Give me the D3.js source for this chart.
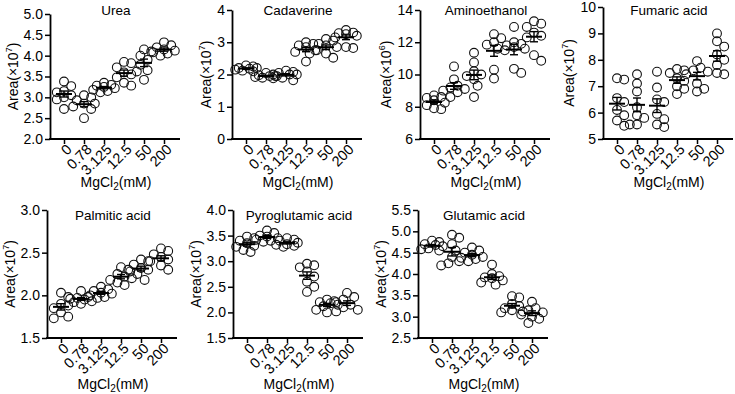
<!DOCTYPE html>
<html>
<head>
<meta charset="utf-8">
<script src="https://cdn.jsdelivr.net/npm/d3@7"></script>
<style>
  body { margin: 0; background: #fff; }
  svg { display: block; font-family: "Liberation Sans", Arial, Helvetica, sans-serif; }
  .axis path, .axis line { stroke: #000; }
  .axis text { fill: #000; font-size: 14px; }
</style>
</head>
<body>
<svg id="chart" width="735" height="394"></svg>
<script>
// MgCl2 concentrations (mM), one group of 8 replicates per concentration
const categories = ['0', '0.78', '3.125', '12.5', '50', '200'];

// Peak areas, one array per concentration
const urea = [
  [3.38, 3.27, 3.15, 3.05, 3.00, 2.95, 2.72, 3.12],
  [3.05, 3.00, 2.93, 2.85, 2.78, 2.72, 2.50, 2.85],
  [3.35, 3.30, 3.25, 3.22, 3.18, 3.15, 3.12, 3.28],
  [3.85, 3.82, 3.72, 3.60, 3.55, 3.48, 3.35, 3.28],
  [4.15, 4.10, 4.00, 3.90, 3.78, 3.65, 3.62, 3.42],
  [4.32, 4.25, 4.20, 4.15, 4.12, 4.08, 4.05, 4.00]
];
const cadaverine = [
  [2.28, 2.25, 2.20, 2.18, 2.15, 2.12, 2.10, 2.20],
  [2.05, 2.00, 1.98, 1.95, 1.92, 1.90, 1.88, 1.95],
  [2.12, 2.08, 2.05, 2.00, 1.95, 1.90, 1.82, 2.00],
  [3.00, 2.95, 2.90, 2.85, 2.75, 2.70, 2.65, 2.40],
  [3.10, 3.05, 2.95, 2.90, 2.85, 2.75, 2.65, 2.52],
  [3.38, 3.30, 3.28, 3.25, 3.20, 3.15, 2.85, 2.82]
];
const aminoethanol = [
  [8.70, 8.60, 8.55, 8.40, 8.25, 8.10, 7.90, 7.85],
  [10.50, 9.70, 9.30, 9.20, 9.00, 8.90, 8.60, 9.10],
  [11.35, 10.75, 10.20, 10.00, 9.90, 9.70, 9.30, 8.60],
  [12.50, 12.25, 12.00, 11.85, 11.60, 11.50, 10.30, 9.75],
  [12.95, 12.00, 11.90, 11.80, 11.70, 11.60, 10.35, 10.10],
  [13.30, 13.15, 12.95, 12.60, 12.40, 12.30, 11.20, 10.85]
];
const fumaricAcid = [
  [7.30, 7.25, 6.55, 6.40, 6.10, 5.90, 5.70, 5.50],
  [7.45, 7.10, 6.80, 6.20, 5.90, 5.80, 5.55, 5.55],
  [7.55, 6.95, 6.50, 6.40, 5.95, 5.75, 5.55, 5.45],
  [7.65, 7.60, 7.50, 7.30, 7.20, 7.00, 6.90, 6.70],
  [7.95, 7.70, 7.60, 7.55, 7.45, 7.10, 6.90, 6.80],
  [9.00, 8.70, 8.50, 8.20, 8.00, 7.80, 7.50, 7.45]
];
const palmiticAcid = [
  [2.03, 1.98, 1.90, 1.88, 1.85, 1.80, 1.75, 1.73],
  [2.05, 1.98, 1.97, 1.96, 1.95, 1.93, 1.92, 1.90],
  [2.10, 2.07, 2.05, 2.03, 2.00, 1.98, 1.97, 2.02],
  [2.33, 2.30, 2.25, 2.22, 2.20, 2.18, 2.15, 2.12],
  [2.42, 2.40, 2.36, 2.32, 2.30, 2.28, 2.25, 2.18],
  [2.55, 2.52, 2.48, 2.45, 2.42, 2.40, 2.35, 2.30]
];
const pyroglutamicAcid = [
  [3.48, 3.45, 3.40, 3.35, 3.30, 3.28, 3.22, 3.18],
  [3.60, 3.55, 3.50, 3.48, 3.45, 3.42, 3.40, 3.38],
  [3.45, 3.42, 3.40, 3.36, 3.33, 3.30, 3.28, 3.32],
  [2.95, 2.92, 2.88, 2.80, 2.70, 2.60, 2.50, 2.40],
  [2.25, 2.22, 2.20, 2.18, 2.15, 2.12, 2.05, 2.00],
  [2.38, 2.30, 2.25, 2.20, 2.15, 2.10, 2.05, 2.02]
];
const glutamicAcid = [
  [4.78, 4.75, 4.70, 4.68, 4.65, 4.60, 4.58, 4.55],
  [4.92, 4.85, 4.70, 4.55, 4.40, 4.30, 4.25, 4.20],
  [4.62, 4.55, 4.50, 4.45, 4.40, 4.38, 4.35, 4.30],
  [4.22, 4.00, 3.95, 3.92, 3.90, 3.85, 3.80, 3.75],
  [3.48, 3.45, 3.30, 3.25, 3.20, 3.15, 3.12, 3.10],
  [3.35, 3.20, 3.15, 3.10, 3.05, 3.00, 2.95, 2.85]
];

// Y tick labels for each panel
const ureaTicks = [2.0, 2.5, 3.0, 3.5, 4.0, 4.5, 5.0];
const cadaverineTicks = [0, 1, 2, 3, 4];
const aminoethanolTicks = [6, 8, 10, 12, 14];
const fumaricTicks = [5, 6, 7, 8, 9, 10];
const palmiticTicks = [1.5, 2.0, 2.5, 3.0];
const pyroglutamicTicks = [1.5, 2.0, 2.5, 3.0, 3.5, 4.0];
const glutamicTicks = [2.5, 3.0, 3.5, 4.0, 4.5, 5.0, 5.5];

const panels = [
  { title: 'Urea', values: urea, ticks: ureaTicks, exp: '7', fmt: '.1f' },
  { title: 'Cadaverine', values: cadaverine, ticks: cadaverineTicks, exp: '7', fmt: 'd' },
  { title: 'Aminoethanol', values: aminoethanol, ticks: aminoethanolTicks, exp: '6', fmt: 'd' },
  { title: 'Fumaric acid', values: fumaricAcid, ticks: fumaricTicks, exp: '7', fmt: 'd' },
  { title: 'Palmitic acid', values: palmiticAcid, ticks: palmiticTicks, exp: '7', fmt: '.1f' },
  { title: 'Pyroglutamic acid', values: pyroglutamicAcid, ticks: pyroglutamicTicks, exp: '7', fmt: '.1f' },
  { title: 'Glutamic acid', values: glutamicAcid, ticks: glutamicTicks, exp: '7', fmt: '.1f' }
];

// Where each panel's axes sit on the page
const layout = [
  { x0: 50, top: 14, bottom: 139, titleY: 15, xLabelY: 187 },
  { x0: 232, top: 10, bottom: 139, titleY: 15, xLabelY: 187 },
  { x0: 420, top: 10, bottom: 139, titleY: 15, xLabelY: 187 },
  { x0: 603, top: 7, bottom: 139, titleY: 15, xLabelY: 187 },
  { x0: 47, top: 210, bottom: 338, titleY: 220, xLabelY: 389 },
  { x0: 233, top: 210, bottom: 338, titleY: 220, xLabelY: 389 },
  { x0: 418, top: 210, bottom: 338, titleY: 220, xLabelY: 389 }
];

const axisLength = 130;
const dotR = 4.4;

const svg = d3.select('#chart');

// Spread the dots of one group sideways a little, the way a scatter dot plot
// does it. Dots may still overlap, but the spread stays within ~12px.
function swarm(ys) {
  const step = 3.6;
  const candidates = [0, step, -step, 2 * step, -2 * step, 3 * step, -3 * step];
  const minDist = dotR * 1.6;
  const placed = [];
  const offsets = new Array(ys.length);
  const order = ys.map((y, i) => i).sort((a, b) => ys[a] - ys[b]);
  order.forEach((i) => {
    const y = ys[i];
    let best = 0, bestDist = -1;
    for (const c of candidates) {
      const nearest = placed.length
        ? d3.min(placed, (p) => Math.hypot(p.x - c, p.y - y))
        : Infinity;
      if (nearest >= minDist) { best = c; bestDist = Infinity; break; }
      if (nearest > bestDist) { best = c; bestDist = nearest; }
    }
    offsets[i] = best;
    placed.push({ x: best, y: y });
  });
  return offsets;
}

panels.forEach((p, pi) => {
  const L = layout[pi];
  const g = svg.append('g').attr('class', 'panel');

  const x = d3.scalePoint()
    .domain(categories)
    .range([L.x0 + 14, L.x0 + 114]);

  const y = d3.scaleLinear()
    .domain(d3.extent(p.ticks))
    .range([L.bottom, L.top]);

  // Y axis
  const yAxisG = g.append('g')
    .attr('class', 'axis')
    .attr('transform', `translate(${L.x0},0)`)
    .call(d3.axisLeft(y)
      .tickValues(p.ticks)
      .tickSize(5)
      .tickSizeOuter(0)
      .tickPadding(2)
      .tickFormat(d3.format(p.fmt)));
  yAxisG.select('.domain').attr('stroke-width', 1.8);
  yAxisG.selectAll('.tick line').attr('stroke-width', 1.5);

  // X axis: ticks from the point scale, baseline drawn across the full width.
  // Labels hang below the tick, rotated 45 degrees, with their top-right
  // corner just under the tick.
  const xAxisG = g.append('g')
    .attr('class', 'axis')
    .attr('transform', `translate(0,${L.bottom})`)
    .call(d3.axisBottom(x).tickSize(5).tickSizeOuter(0));
  xAxisG.select('.domain').remove();
  xAxisG.selectAll('.tick line').attr('stroke-width', 1.5);
  xAxisG.selectAll('.tick text')
    .attr('x', 0).attr('y', 0).attr('dy', '0.71em')
    .attr('text-anchor', 'end')
    .style('font-size', '14.5px')
    .attr('transform', 'translate(1,4) rotate(-45)');
  g.append('line')
    .attr('x1', L.x0 - 0.9).attr('x2', L.x0 + axisLength)
    .attr('y1', L.bottom).attr('y2', L.bottom)
    .attr('stroke', '#000').attr('stroke-width', 1.8);

  // Title
  g.append('text')
    .attr('x', L.x0 + 66).attr('y', L.titleY)
    .attr('text-anchor', 'middle')
    .attr('font-size', '13.5px')
    .text(p.title);

  // Y axis label, placed just left of the widest tick label
  const maxW = d3.max(yAxisG.selectAll('.tick text').nodes(), (n) => n.getComputedTextLength());
  const labelX = L.x0 - 7 - maxW - 6;
  const yLab = g.append('text')
    .attr('transform', `translate(${labelX},${(L.top + L.bottom) / 2}) rotate(-90)`)
    .attr('text-anchor', 'middle')
    .attr('font-size', '14px');
  yLab.append('tspan').text('Area(×10');
  yLab.append('tspan').attr('dy', -6).attr('font-size', '9px').text(p.exp);
  yLab.append('tspan').attr('dy', 6).text(')');

  // X axis label
  const xLab = g.append('text')
    .attr('x', L.x0 + 66).attr('y', L.xLabelY)
    .attr('text-anchor', 'middle')
    .attr('font-size', '14px');
  xLab.append('tspan').text('MgCl');
  xLab.append('tspan').attr('dy', 3).attr('font-size', '10px').text('2');
  xLab.append('tspan').attr('dy', -3).text('(mM)');

  // Dots, mean and SEM for each group
  p.values.forEach((vals, ci) => {
    const cx = x(categories[ci]);
    const ys = vals.map((v) => y(v));
    const offs = swarm(ys);

    g.append('g').selectAll('circle')
      .data(vals)
      .join('circle')
        .attr('cx', (d, i) => cx + offs[i])
        .attr('cy', (d) => y(d))
        .attr('r', dotR)
        .attr('fill', 'none')
        .attr('stroke', '#111')
        .attr('stroke-width', 1.1);

    const mean = d3.mean(vals);
    const sem = d3.deviation(vals) / Math.sqrt(vals.length);

    g.append('line')
      .attr('x1', cx - 8).attr('x2', cx + 8)
      .attr('y1', y(mean)).attr('y2', y(mean))
      .attr('stroke', '#000').attr('stroke-width', 2);
    g.append('line')
      .attr('x1', cx).attr('x2', cx)
      .attr('y1', y(mean + sem)).attr('y2', y(mean - sem))
      .attr('stroke', '#000').attr('stroke-width', 1.4);
    [mean + sem, mean - sem].forEach((v) => {
      g.append('line')
        .attr('x1', cx - 4).attr('x2', cx + 4)
        .attr('y1', y(v)).attr('y2', y(v))
        .attr('stroke', '#000').attr('stroke-width', 1.4);
    });
  });
});
</script>
</body>
</html>
